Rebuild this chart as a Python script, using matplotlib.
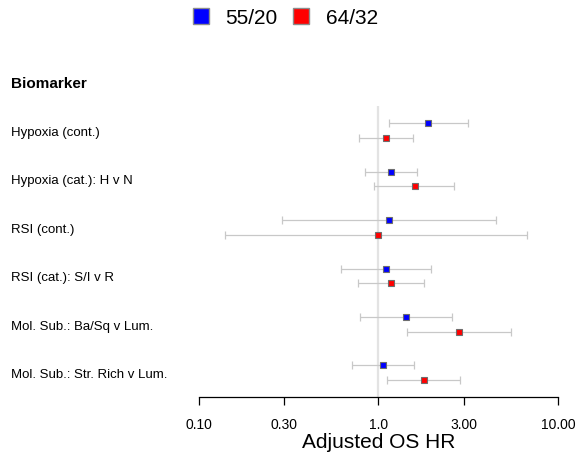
import matplotlib
matplotlib.use("Agg")
import matplotlib.pyplot as plt
from matplotlib.lines import Line2D
from matplotlib.ticker import FixedLocator, FixedFormatter, NullLocator

plt.rcParams['font.family'] = ['Liberation Sans', 'DejaVu Sans']

# Biomarkers (top to bottom)
biomarkers = [
    "Hypoxia (cont.)",
    "Hypoxia (cat.): H v N",
    "RSI (cont.)",
    "RSI (cat.): S/I v R",
    "Mol. Sub.: Ba/Sq v Lum.",
    "Mol. Sub.: Str. Rich v Lum.",
]

# Trial 55/20: adjusted OS hazard ratios with 95% CI
hr_5520 = [1.89, 1.17, 1.15, 1.10, 1.42, 1.06]
lo_5520 = [1.15, 0.84, 0.29, 0.62, 0.79, 0.71]
hi_5520 = [3.16, 1.63, 4.52, 1.95, 2.57, 1.58]

# Trial 64/32: adjusted OS hazard ratios with 95% CI
hr_6432 = [1.10, 1.60, 0.99, 1.17, 2.82, 1.79]
lo_6432 = [0.78, 0.95, 0.14, 0.77, 1.44, 1.12]
hi_6432 = [1.56, 2.64, 6.73, 1.79, 5.48, 2.85]

tick_values = [0.1, 0.3, 1.0, 3.0, 10.0]
tick_labels = ["0.10", "0.30", "1.0", "3.00", "10.00"]

W, H = 579, 459
fig = plt.figure(figsize=(W / 100, H / 100), dpi=100)
ax = fig.add_axes([198.5 / W, 1 - 397 / H, 359.8 / W, 339.25 / H])

ax.set_xscale('log')
ax.set_xlim(0.1, 10)
ax.set_ylim(5.5, -1.5)

# reference line at HR = 1
ax.plot([1, 1], [-0.5, 5.5], color='#e3e3e3', lw=1.6, zorder=1, solid_capstyle='butt')

offset = 0.15
series = [
    (hr_5520, lo_5520, hi_5520, -offset, '#0000ff'),
    (hr_6432, lo_6432, hi_6432, offset, '#ff0000'),
]
for hr, lo, hi, dy, col in series:
    for i in range(len(biomarkers)):
        y = i + dy
        ax.errorbar([hr[i]], [y],
                    xerr=[[hr[i] - lo[i]], [hi[i] - hr[i]]],
                    fmt='none', ecolor='#c8c8c8', elinewidth=0.9,
                    capsize=2.6, capthick=0.9, zorder=2)
        ax.plot([hr[i]], [y], marker='s', ms=4.6, mfc=col, mec='#6e6e6e',
                mew=0.8, ls='none', zorder=3)

# axis styling: only bottom axis shown
for side in ['left', 'right', 'top']:
    ax.spines[side].set_visible(False)
ax.spines['bottom'].set_linewidth(0.9)
ax.xaxis.set_major_locator(FixedLocator(tick_values))
ax.xaxis.set_major_formatter(FixedFormatter(tick_labels))
ax.xaxis.set_minor_locator(NullLocator())
ax.tick_params(axis='x', direction='out', length=6, width=0.9, labelsize=10, pad=9)
ax.set_yticks([])
ax.set_xlabel("Adjusted OS HR", fontsize=15, labelpad=1)

# row labels on the left
trans = matplotlib.transforms.blended_transform_factory(fig.transFigure, ax.transData)
ax.text(11 / W, -1 + 0.05, "Biomarker", transform=trans, fontsize=11, fontweight='bold',
        ha='left', va='center')
for i, name in enumerate(biomarkers):
    ax.text(11 / W, i + 0.05, name, transform=trans, fontsize=9.5, ha='left', va='center')

# legend at top
handles = [
    Line2D([], [], marker='s', ls='none', ms=11.5, mfc='#0000ff', mec='#8c8c8c', mew=1.0),
    Line2D([], [], marker='s', ls='none', ms=11.5, mfc='#ff0000', mec='#8c8c8c', mew=1.0),
]
fig.legend(handles, ["55/20", "64/32"], loc='center', bbox_to_anchor=(284 / W, 1 - 18 / H),
           ncol=2, frameon=False, fontsize=15, handlelength=1.0, handletextpad=0.7,
           columnspacing=0.6)

fig.savefig("out.png", dpi=100)
